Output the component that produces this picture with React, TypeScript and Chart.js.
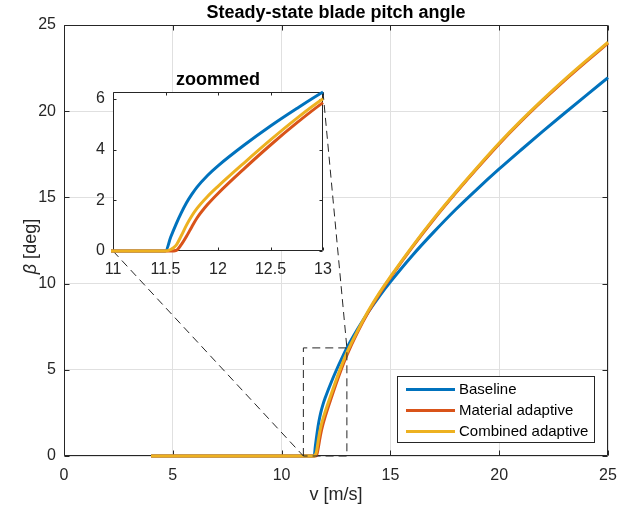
import React, { useEffect, useRef } from "react";
import { Chart, registerables } from "chart.js";
Chart.register(...registerables);

// ---------- data ----------
const windSpeed = [4, 11, 11.5, 11.55, 11.6, 11.65, 11.7, 11.75, 11.8, 11.9, 12, 12.25, 12.5, 12.75, 13, 13.5, 14, 14.5, 15, 16, 17, 18, 19, 20, 21, 22, 23, 24, 25];
const baseline = [0, 0, 0, 0.55, 1.05, 1.5, 1.9, 2.23, 2.52, 2.98, 3.36, 4.18, 4.93, 5.62, 6.27, 7.38, 8.38, 9.28, 10.1, 11.62, 13.0, 14.3, 15.5, 16.65, 17.75, 18.83, 19.88, 20.92, 21.95];
const materialAdaptive = [0, 0, 0, 0, 0.02, 0.25, 0.58, 0.95, 1.3, 1.83, 2.27, 3.25, 4.18, 5.05, 5.85, 7.2, 8.38, 9.42, 10.35, 12.1, 13.73, 15.25, 16.7, 18.1, 19.4, 20.62, 21.78, 22.88, 23.95];
const combinedAdaptive = [0, 0, 0, 0.06, 0.22, 0.6, 1.02, 1.38, 1.68, 2.15, 2.55, 3.48, 4.38, 5.23, 6.0, 7.28, 8.45, 9.48, 10.4, 12.15, 13.78, 15.3, 16.75, 18.15, 19.45, 20.67, 21.83, 22.93, 24.0];
const seriesLabels = ["Baseline", "Material adaptive", "Combined adaptive"];
const seriesColors = ["#0072BD", "#D95319", "#EDB120"];
const mainXTicks = [0, 5, 10, 15, 20, 25];
const mainYTicks = [0, 5, 10, 15, 20, 25];
const zoomXRange = [11, 13];
const zoomXTicks = [11, 11.5, 12, 12.5, 13];
const zoomYTicks = [0, 2, 4, 6];
const titleText = "Steady-state blade pitch angle";
const zoomTitleText = "zoommed";
const xLabelText = "v [m/s]";
const yLabelSymbol = "β";
const yLabelRest = " [deg]";

const FONT = "'Liberation Sans', Arial, Helvetica, sans-serif";
const AX = "#262626";
const GRID = "#e0e0e0";

const allSeries = [baseline, materialAdaptive, combinedAdaptive];
const zoomYMax = Math.max(
  ...allSeries.flatMap((s) => s.filter((_, i) => windSpeed[i] >= zoomXRange[0] && windSpeed[i] <= zoomXRange[1]))
);

function makeDatasets() {
  return allSeries.map((s, k) => ({
    label: seriesLabels[k],
    data: windSpeed.map((x, i) => ({ x, y: s[i] })),
    borderColor: seriesColors[k],
    backgroundColor: seriesColors[k],
    borderWidth: 3,
    pointRadius: 0,
    fill: false,
    clip: 2,
    cubicInterpolationMode: "monotone" as const,
    order: 3 - k,
  }));
}

const al = (v: number) => Math.round(v) + 0.5;

function drawBox(chart: any, xTicks: number[], yTicks: number[], len: number) {
  const { ctx, chartArea: ca, scales } = chart;
  ctx.save();
  ctx.strokeStyle = AX;
  ctx.lineWidth = 1;
  ctx.beginPath();
  const L = al(ca.left), R = al(ca.right) - 1, T = al(ca.top), B = al(ca.bottom) - 1;
  ctx.rect(L, T, R - L, B - T);
  for (const t of xTicks) {
    const px = al(scales.x.getPixelForValue(t));
    ctx.moveTo(px, B); ctx.lineTo(px, B - len);
    ctx.moveTo(px, T); ctx.lineTo(px, T + len);
  }
  for (const t of yTicks) {
    const py = al(scales.y.getPixelForValue(t));
    ctx.moveTo(L, py); ctx.lineTo(L + len, py);
    ctx.moveTo(R, py); ctx.lineTo(R - len, py);
  }
  ctx.stroke();
  ctx.restore();
}

export default function App() {
  const mainRef = useRef<HTMLCanvasElement>(null);
  const insetRef = useRef<HTMLCanvasElement>(null);

  useEffect(() => {
    if (!mainRef.current || !insetRef.current) return;

    const tickFont = { family: FONT, size: 16 };

    const insetPlugin = {
      id: "insetDecor",
      beforeDraw(chart: any) {
        const { ctx, chartArea: ca } = chart;
        ctx.save();
        ctx.fillStyle = "#ffffff";
        ctx.fillRect(ca.left, ca.top, ca.right - ca.left, ca.bottom - ca.top);
        ctx.restore();
      },
      beforeDatasetsDraw(chart: any) {
        drawBox(chart, zoomXTicks, zoomYTicks, 3);
      },
      afterDraw(chart: any) {
        const { ctx, chartArea: ca } = chart;
        ctx.save();
        ctx.fillStyle = "#000";
        ctx.font = `bold 18px ${FONT}`;
        ctx.textAlign = "center";
        ctx.textBaseline = "alphabetic";
        ctx.fillText(zoomTitleText, (ca.left + ca.right) / 2, ca.top - 7);
        ctx.restore();
      },
    };

    const inset = new Chart(insetRef.current, {
      type: "line",
      data: { datasets: makeDatasets() as any },
      options: {
        animation: false,
        responsive: false,
        events: [],
        layout: { padding: { left: 73, top: 92, right: 309, bottom: 231 } },
        plugins: { legend: { display: false }, tooltip: { enabled: false }, title: { display: false } },
        scales: {
          x: {
            type: "linear",
            min: zoomXRange[0],
            max: zoomXRange[1],
            afterFit: (s: any) => { s.height = 30; },
            afterBuildTicks: (s: any) => { s.ticks = zoomXTicks.map((v) => ({ value: v })); },
            ticks: { font: tickFont, color: AX, padding: 9, maxRotation: 0, autoSkip: false, callback: (v: any) => String(v) },
            grid: { display: false, drawTicks: false },
            border: { display: false },
          },
          y: {
            type: "linear",
            min: 0,
            max: zoomYMax,
            afterFit: (s: any) => { s.width = 40; },
            afterBuildTicks: (s: any) => { s.ticks = zoomYTicks.map((v) => ({ value: v })); },
            ticks: { font: tickFont, color: AX, padding: 8, autoSkip: false, callback: (v: any) => String(v) },
            grid: { display: false, drawTicks: false },
            border: { display: false },
          },
        },
      } as any,
      plugins: [insetPlugin],
    });

    const mainPlugin = {
      id: "mainDecor",
      beforeDatasetsDraw(chart: any) {
        drawBox(chart, mainXTicks, mainYTicks, 5);
      },
      afterDatasetsDraw(chart: any) {
        const { ctx, scales } = chart;
        const x0 = scales.x.getPixelForValue(zoomXRange[0]);
        const x1 = scales.x.getPixelForValue(zoomXRange[1]);
        const y0 = scales.y.getPixelForValue(0);
        const y1 = scales.y.getPixelForValue(zoomYMax);
        const ia = inset.chartArea;
        ctx.save();
        ctx.strokeStyle = "#262626";
        ctx.lineWidth = 1;
        ctx.setLineDash([8, 5]);
        ctx.beginPath();
        ctx.moveTo(x0, y0); ctx.lineTo(x0, y1); ctx.lineTo(x1, y1); ctx.lineTo(x1, y0); ctx.lineTo(x0, y0);
        ctx.stroke();
        ctx.beginPath();
        ctx.moveTo(ia.left, ia.bottom); ctx.lineTo(x0, y0);
        ctx.moveTo(ia.right, ia.top); ctx.lineTo(x1, y1);
        ctx.stroke();
        ctx.restore();
      },
      afterDraw(chart: any) {
        const { ctx, chartArea: ca } = chart;
        const cx = (ca.left + ca.right) / 2;
        const cy = (ca.top + ca.bottom) / 2;
        ctx.save();
        // title
        ctx.fillStyle = "#000";
        ctx.font = `bold 18px ${FONT}`;
        ctx.textAlign = "center";
        ctx.textBaseline = "alphabetic";
        ctx.fillText(titleText, cx, 18);
        // x label
        ctx.fillStyle = AX;
        ctx.font = `18px ${FONT}`;
        ctx.fillText(xLabelText, cx, 500);
        // y label
        ctx.save();
        ctx.translate(31, cy + 6);
        ctx.rotate(-Math.PI / 2);
        ctx.textBaseline = "middle";
        ctx.textAlign = "left";
        ctx.font = `italic 18px ${FONT}`;
        const w1 = ctx.measureText(yLabelSymbol).width;
        ctx.font = `18px ${FONT}`;
        const w2 = ctx.measureText(yLabelRest).width;
        const start = -(w1 + w2) / 2;
        ctx.font = `italic 18px ${FONT}`;
        ctx.fillText(yLabelSymbol, start, 0);
        ctx.font = `18px ${FONT}`;
        ctx.fillText(yLabelRest, start + w1, 0);
        ctx.restore();
        // legend
        ctx.font = `15px ${FONT}`;
        const lineLen = 49, padL = 9, gap = 4, padR = 6, rowH = 21, padT = 13, padB = 11;
        const textW = Math.max(...seriesLabels.map((l) => ctx.measureText(l).width));
        const boxW = padL + lineLen + gap + textW + padR;
        const boxH = padT + rowH * (seriesLabels.length - 1) + padB;
        const right = Math.round(ca.right - 14);
        const bottom = Math.round(ca.bottom - 14);
        const left = Math.round(right - boxW);
        const top = bottom - boxH;
        ctx.fillStyle = "#fff";
        ctx.fillRect(left, top, boxW, boxH);
        ctx.strokeStyle = AX;
        ctx.lineWidth = 1;
        ctx.strokeRect(left + 0.5, top + 0.5, right - left, boxH);
        seriesLabels.forEach((lab, i) => {
          const y = top + padT + i * rowH;
          ctx.strokeStyle = seriesColors[i];
          ctx.lineWidth = 3;
          ctx.beginPath();
          ctx.moveTo(left + padL, y + 0.5);
          ctx.lineTo(left + padL + lineLen, y + 0.5);
          ctx.stroke();
          ctx.fillStyle = "#000";
          ctx.textAlign = "left";
          ctx.textBaseline = "middle";
          ctx.fillText(lab, left + padL + lineLen + gap, y + 1);
        });
        ctx.restore();
      },
    };

    const main = new Chart(mainRef.current, {
      type: "line",
      data: { datasets: makeDatasets() as any },
      options: {
        animation: false,
        responsive: false,
        events: [],
        layout: { padding: { left: 0, top: 25, right: 24, bottom: 0 } },
        plugins: { legend: { display: false }, tooltip: { enabled: false }, title: { display: false } },
        scales: {
          x: {
            type: "linear",
            min: 0,
            max: 25,
            afterFit: (s: any) => { s.height = 56; },
            afterBuildTicks: (s: any) => { s.ticks = mainXTicks.map((v) => ({ value: v })); },
            ticks: { font: tickFont, color: AX, padding: 10, maxRotation: 0, autoSkip: false, callback: (v: any) => String(v) },
            grid: { color: GRID, drawTicks: false },
            border: { display: false },
          },
          y: {
            type: "linear",
            min: 0,
            max: 25,
            afterFit: (s: any) => { s.width = 64; },
            afterBuildTicks: (s: any) => { s.ticks = mainYTicks.map((v) => ({ value: v })); },
            ticks: { font: tickFont, color: AX, padding: 8, autoSkip: false, callback: (v: any) => String(v) },
            grid: { color: GRID, drawTicks: false },
            border: { display: false },
          },
        },
      } as any,
      plugins: [mainPlugin],
    });

    return () => {
      main.destroy();
      inset.destroy();
    };
  }, []);

  return (
    <div style={{ position: "fixed", left: 0, top: 0, width: 632, height: 512, background: "#fff" }}>
      <canvas ref={mainRef} width={632} height={512} style={{ position: "absolute", left: 0, top: 0, width: 632, height: 512 }} />
      <canvas ref={insetRef} width={632} height={512} style={{ position: "absolute", left: 0, top: 0, width: 632, height: 512 }} />
    </div>
  );
}
